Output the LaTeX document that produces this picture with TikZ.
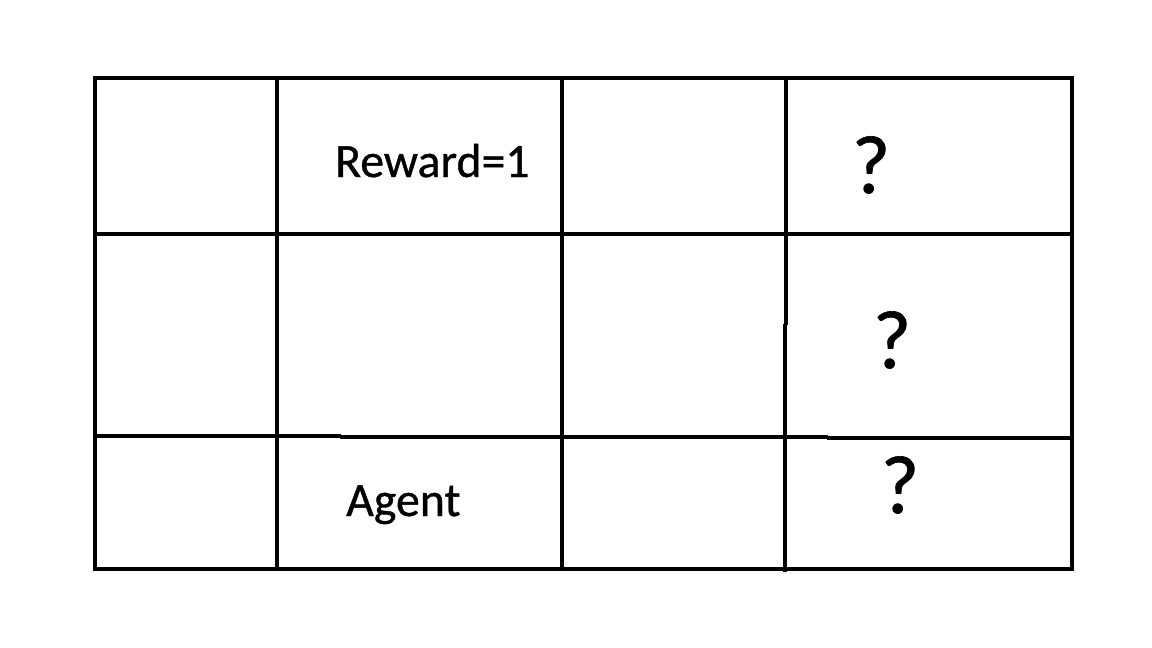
\documentclass[tikz,border=0pt]{standalone}
\usepackage{fontspec}
\setmainfont{Carlito}
\newfontfamily\cellfont[FakeBold=0.8]{Carlito}
\tikzset{
  gridline/.style={line width=4pt, black, line cap=rect},
  celltext/.style={inner sep=0pt, font=\cellfont\fontsize{47.8}{52}\selectfont},
  qmark/.style={inner sep=0pt, anchor=base, font=\cellfont\fontsize{83}{90}\selectfont}
}
\begin{document}
\begin{tikzpicture}[x=1pt, y=-1pt]
\useasboundingbox (0,0) rectangle (1152,648);
\fill[white] (0,0) rectangle (1152,648);
% outer frame
\draw[gridline] (95,78) -- (1072,78);
\draw[gridline] (95,569) -- (1072,569);
\draw[gridline] (95,78) -- (95,569);
\draw[gridline] (1072,78) -- (1072,569);
% vertical lines
\draw[gridline] (277,78) -- (277,569);
\draw[gridline] (562,78) -- (562,569);
\draw[gridline, line cap=butt] (786,78) -- (786,325);
\draw[gridline, line cap=butt] (784.5,324) -- (784.5,572);
% horizontal lines
\draw[gridline] (95,234) -- (1072,234);
\draw[gridline, line cap=butt] (95,435.5) -- (341,435.5);
\draw[gridline, line cap=butt] (340,436.5) -- (828,436.5);
\draw[gridline, line cap=butt] (827,437.5) -- (1072,437.5);
% texts
\node[celltext, anchor=base west] (reward) at (335,177) {Reward=1};
\node[celltext, anchor=base west] (agent) at (346,516) {Agent};
\node[qmark] (q1) at (871,193) {?};
\node[qmark] (q2) at (892,368) {?};
\node[qmark] (q3) at (900,513) {?};
\end{tikzpicture}
\end{document}
